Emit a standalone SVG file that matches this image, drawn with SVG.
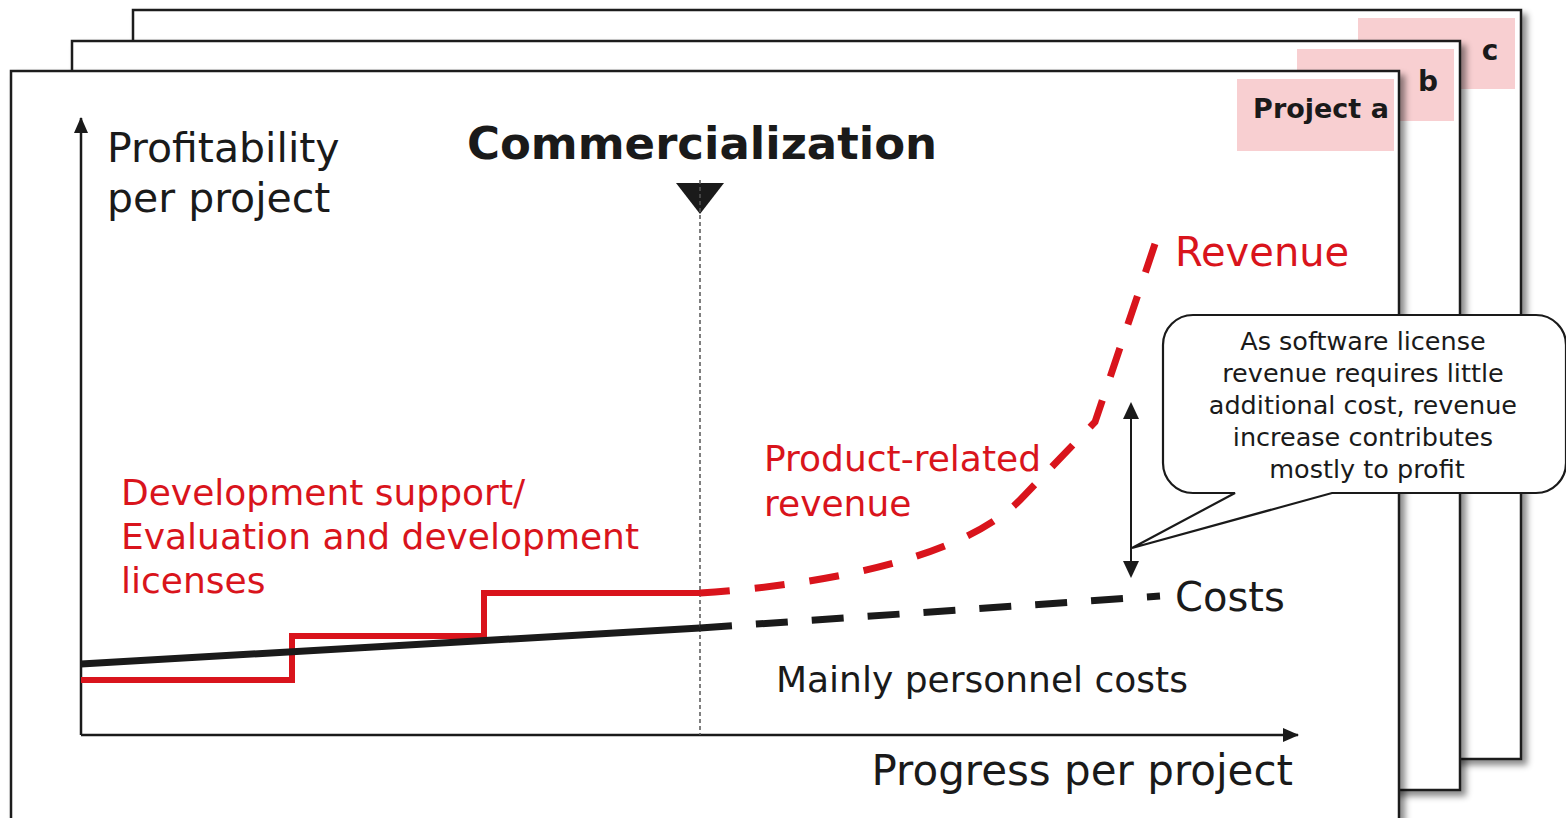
<svg xmlns="http://www.w3.org/2000/svg" width="1566" height="818" viewBox="0 0 1566 818">
<style>
.frame{fill:#fff;stroke:#1a1a1a;stroke-width:2.5}
.tag{fill:#f8cfd1}
.tagtxt{font-family:"DejaVu Sans","Noto Sans",sans-serif;font-weight:bold;fill:#1a1a1a}
.txt{font-family:"DejaVu Sans","Noto Sans",sans-serif;fill:#1a1a1a}
.red{fill:#d9141c}
.axis{stroke:#1a1a1a;stroke-width:2.5;fill:none}
</style>
<defs>
<filter id="sh" x="-5%" y="-5%" width="115%" height="115%">
<feDropShadow dx="5" dy="5" stdDeviation="3" flood-color="#000" flood-opacity="0.45"/>
</filter>
<marker id="ah" viewBox="0 0 16 14" refX="15" refY="7" markerWidth="16" markerHeight="14" markerUnits="userSpaceOnUse" orient="auto-start-reverse">
<path d="M0,0 L16,7 L0,14 Z" fill="#1a1a1a"/>
</marker>
</defs>

<g id="frame-c">
<rect class="frame" x="133" y="10" width="1388" height="749" filter="url(#sh)"/>
<rect class="tag" x="1358" y="18" width="157" height="71"/>
<text class="tagtxt" x="1490" y="60" font-size="28" text-anchor="middle">c</text>
</g>
<g id="frame-b">
<rect class="frame" x="72" y="41" width="1388" height="749" filter="url(#sh)"/>
<rect class="tag" x="1297" y="49" width="157" height="72"/>
<text class="tagtxt" x="1428" y="91" font-size="28" text-anchor="middle">b</text>
</g>
<g id="frame-a">
<rect class="frame" x="11" y="71" width="1388" height="770" filter="url(#sh)"/>
<rect class="tag" x="1237" y="79" width="157" height="72"/>
<text class="tagtxt" x="1321" y="118" font-size="27" text-anchor="middle">Project a</text>
</g>

<g id="axes">
<line class="axis" x1="81" y1="735" x2="81" y2="118" marker-end="url(#ah)"/>
<line class="axis" x1="81" y1="735" x2="1298" y2="735" marker-end="url(#ah)"/>
<text class="txt" x="107" y="162" font-size="41">Profitability</text>
<text class="txt" x="107" y="212" font-size="41">per project</text>
<text class="txt" x="1293" y="785" font-size="42" text-anchor="end">Progress per project</text>
</g>

<g id="commercialization">
<text class="txt" x="702" y="159" font-size="45" font-weight="bold" text-anchor="middle">Commercialization</text>
<path d="M676,183 L724,183 L700,214 Z" fill="#1a1a1a"/>
</g>

<g id="connectors">
<line x1="700" y1="180" x2="700" y2="735" stroke="#555" stroke-width="1.5" stroke-dasharray="4,3"/>
<polyline points="81,680 292,680 292,636 484,636 484,593 700,593" fill="none" stroke="#d9141c" stroke-width="6"/>
<line x1="81" y1="664" x2="700" y2="628" stroke="#1a1a1a" stroke-width="7"/>
<line x1="700" y1="628" x2="1160" y2="596" stroke="#1a1a1a" stroke-width="7" stroke-dasharray="32,24"/>
<path d="M700,593 C820,585 960,560 1020,500 L1095,422 L1158,235" fill="none" stroke="#d9141c" stroke-width="7" stroke-dasharray="30,25"/>
<line x1="1131" y1="418" x2="1131" y2="562" stroke="#1a1a1a" stroke-width="2"/>
<path d="M1123,419 L1131,402 L1139,419 Z" fill="#1a1a1a"/>
<path d="M1123,561 L1131,578 L1139,561 Z" fill="#1a1a1a"/>
</g>

<g id="labels">
<text class="txt red" x="121" y="505" font-size="36">Development support/</text>
<text class="txt red" x="121" y="549" font-size="36">Evaluation and development</text>
<text class="txt red" x="121" y="593" font-size="36">licenses</text>
<text class="txt red" x="764" y="471" font-size="36">Product-related</text>
<text class="txt red" x="764" y="516" font-size="36">revenue</text>
<text class="txt red" x="1175" y="266" font-size="40">Revenue</text>
<text class="txt" x="1175" y="611" font-size="40">Costs</text>
<text class="txt" x="776" y="692" font-size="36">Mainly personnel costs</text>
</g>

<g id="callout">
<path d="M1193,315 H1536 A30,30 0 0 1 1566,345 V463 A30,30 0 0 1 1536,493 H1332 L1132,548 L1235,493 H1193 A30,30 0 0 1 1163,463 V345 A30,30 0 0 1 1193,315 Z" fill="#fff" stroke="#1a1a1a" stroke-width="2.2"/>
<text class="txt" font-size="25.5" text-anchor="middle">
<tspan x="1367" y="350">As software license</tspan>
<tspan x="1367" y="382">revenue requires little</tspan>
<tspan x="1367" y="414">additional cost, revenue</tspan>
<tspan x="1367" y="446">increase contributes</tspan>
<tspan x="1367" y="478">mostly to profit</tspan>
</text>
</g>
</svg>
